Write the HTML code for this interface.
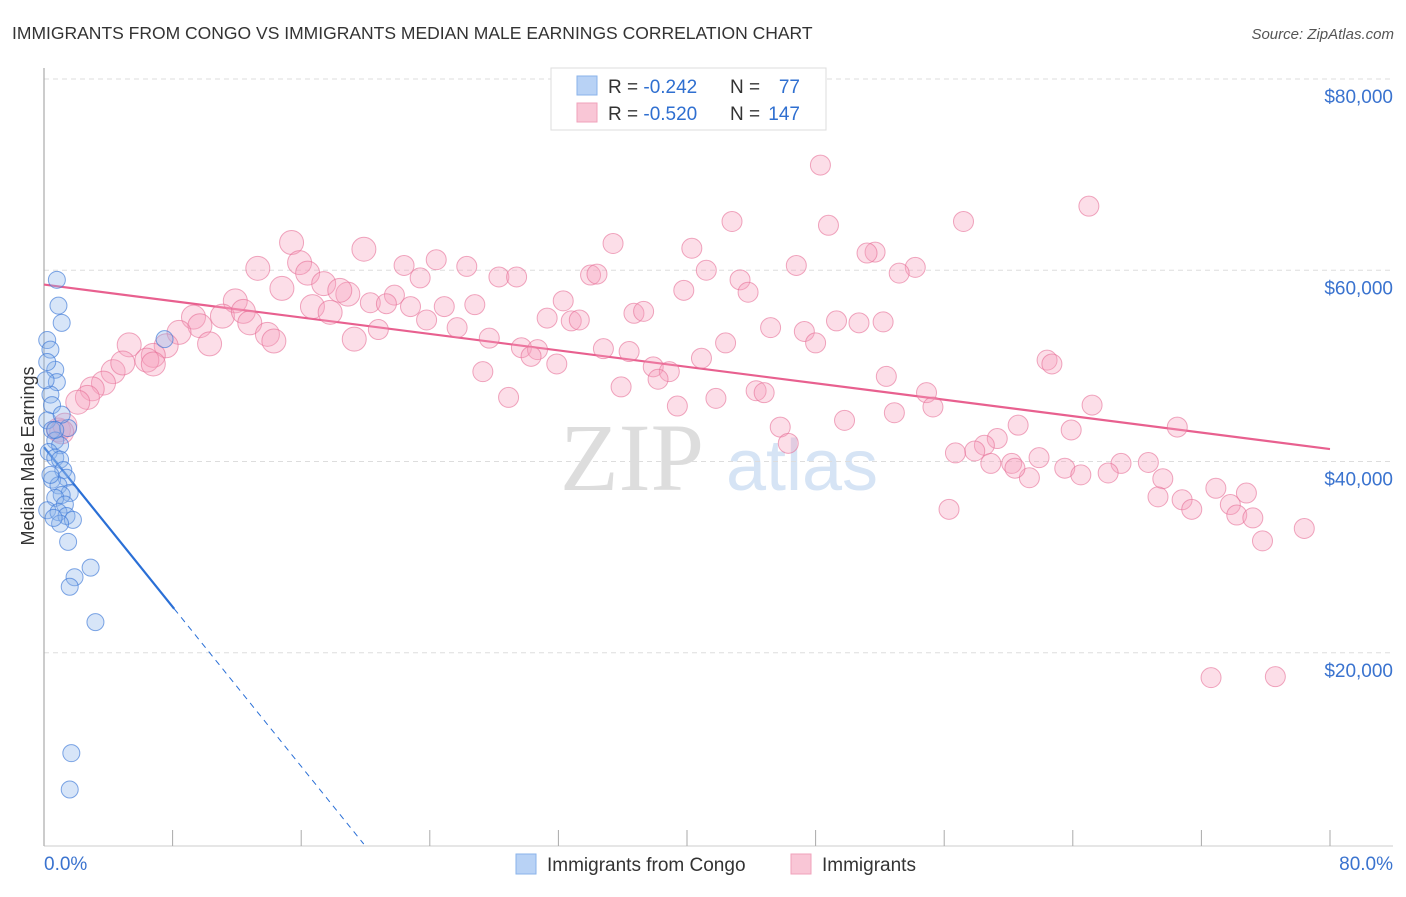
<!DOCTYPE html>
<html><head><meta charset="utf-8">
<style>
body{margin:0;background:#fff;font-family:"Liberation Sans",sans-serif;}
svg text{font-family:"Liberation Sans",sans-serif;}
</style></head>
<body>
<svg id="chart" width="1406" height="892" viewBox="0 0 1406 892" xmlns="http://www.w3.org/2000/svg">
<text x="12" y="39" font-size="17.5" fill="#333">IMMIGRANTS FROM CONGO VS IMMIGRANTS MEDIAN MALE EARNINGS CORRELATION CHART</text>
<text x="1394" y="39" font-size="15" fill="#555" text-anchor="end" font-style="italic">Source: ZipAtlas.com</text>
<g>
<text x="632" y="490" font-size="96" fill="#ddd" text-anchor="middle" font-family="Liberation Serif" style="font-family:'Liberation Serif',serif">ZIP</text>
<text x="802" y="490" font-size="72" fill="#d6e4f5" text-anchor="middle">atlas</text>
</g>
<g id="grid"></g>
<g id="axes"></g>
<g id="trends"></g>
<g id="points"></g>
<text transform="translate(34,456) rotate(-90)" font-size="18" fill="#333" text-anchor="middle">Median Male Earnings</text>
<g>
<rect x="551" y="68" width="275" height="62" fill="#fff" stroke="#ddd"/>
<rect x="577" y="76" width="20" height="19" fill="#b8d2f5" stroke="#8ab3ea"/>
<rect x="577" y="103" width="20" height="19" fill="#f9c6d6" stroke="#f0a2bb"/>
<text x="608" y="93" font-size="19" fill="#333">R = <tspan fill="#2f6fd0">-0.242</tspan></text>
<text x="730" y="93" font-size="19" fill="#333">N = </text><text x="800" y="93" font-size="19" fill="#2f6fd0" text-anchor="end">77</text>
<text x="608" y="120" font-size="19" fill="#333">R = <tspan fill="#2f6fd0">-0.520</tspan></text>
<text x="730" y="120" font-size="19" fill="#333">N = </text><text x="800" y="120" font-size="19" fill="#2f6fd0" text-anchor="end">147</text>
</g>
<g>
<rect x="516" y="854" width="20" height="20" fill="#b8d2f5" stroke="#8ab3ea"/>
<text x="547" y="871" font-size="19" fill="#333">Immigrants from Congo</text>
<rect x="791" y="854" width="20" height="20" fill="#f9c6d6" stroke="#f0a2bb"/>
<text x="822" y="871" font-size="19" fill="#333">Immigrants</text>
</g>
</svg>
<script>
const yTicks=[20000,40000,60000,80000];
const yTickLabels=["$20,000","$40,000","$60,000","$80,000"];
const xTickLabels=["0.0%","80.0%"];
const pinkX=[48.3,42.8,57.2,65.0,48.8,15.4,35.4,19.9,40.3,51.7,51.2,15.9,13.3,24.4,22.4,26.3,41.2,54.2,53.2,16.4,28.3,29.4,34.0,34.4,43.3,23.4,17.4,14.8,18.9,18.4,39.8,43.8,46.8,11.9,16.7,17.8,20.3,21.8,21.3,22.8,24.9,26.8,32.3,23.8,11.1,9.3,12.4,36.7,37.3,31.3,32.8,33.3,49.3,50.7,52.2,12.8,9.7,8.4,25.7,20.8,19.3,13.9,14.3,45.2,47.3,27.7,48.0,42.4,29.7,30.7,34.8,36.4,10.3,7.6,5.3,6.8,6.4,6.8,4.3,4.9,40.9,30.3,31.9,37.9,38.9,38.2,62.4,62.7,27.3,52.4,3.7,3.0,2.7,2.1,0.9,1.3,1.1,35.9,44.3,44.8,28.9,41.8,54.9,39.4,52.9,55.3,49.8,45.8,65.2,70.5,60.6,63.9,46.3,59.3,58.5,57.9,56.7,61.9,60.2,58.9,63.5,67.0,66.2,68.7,69.6,64.5,61.3,60.4,72.9,74.8,69.3,70.8,71.4,73.8,74.2,75.2,56.3,78.4,75.8,72.6,76.6];
const pinkY=[71.0,65.1,65.1,66.7,64.7,62.9,62.8,62.2,62.3,61.9,61.8,60.8,60.2,61.1,60.5,60.4,60.0,60.3,59.7,59.7,59.3,59.3,59.5,59.6,59.0,59.2,58.6,58.1,57.5,57.9,57.9,57.7,60.5,56.8,56.2,55.6,56.6,57.4,56.5,56.2,56.2,56.4,56.8,54.8,55.2,55.1,55.7,55.5,55.7,55.0,54.7,54.8,54.7,54.5,54.6,54.5,54.2,53.5,54.0,53.8,52.8,53.3,52.6,54.0,53.6,52.9,52.4,52.4,51.9,51.7,51.8,51.5,52.3,52.1,52.2,51.1,50.6,50.2,49.4,50.3,50.8,51.0,50.2,49.9,49.4,48.6,50.6,50.2,49.4,48.9,48.2,47.6,46.7,46.2,43.3,43.8,43.1,47.8,47.4,47.2,46.7,46.6,47.2,45.8,45.1,45.7,44.3,43.6,45.9,43.6,43.8,43.3,41.9,42.4,41.7,41.1,40.9,40.4,39.8,39.8,39.3,39.8,38.8,39.9,38.2,38.6,38.3,39.3,37.2,36.7,36.3,36.0,35.0,35.5,34.4,34.1,35.0,33.0,31.7,17.4,17.5];
const blueX=[0.8,0.9,1.1,0.2,0.4,0.7,0.8,0.2,0.4,0.5,0.2,0.5,0.7,1.0,1.5,0.3,0.7,1.0,1.2,1.4,0.5,0.9,1.6,1.1,0.7,1.3,0.2,0.9,1.4,1.8,1.0,0.6,1.5,1.9,2.9,1.6,3.2,1.7,1.6,7.5,0.1,0.4,1.1,0.7];
const blueY=[59.0,56.3,54.5,52.7,51.7,49.6,48.3,50.4,47.0,45.9,44.3,43.3,42.2,41.7,43.5,41.0,40.4,40.2,39.1,38.3,38.1,37.5,36.7,36.5,36.2,35.5,34.9,34.7,34.3,33.9,33.5,34.1,31.6,27.9,28.9,26.9,23.2,9.5,5.7,52.8,48.5,38.6,44.9,43.3];
const pinkTrend=[58.5,41.3]; // values (k$) at 0% and 80%
const blueTrend=[41.5,24.6]; // values at 0% and 8.1%
const blueSolidEnd=8.1;

const NS="http://www.w3.org/2000/svg";
const X0=44,X1=1330,Y0=844,PX_PER_K=191.25/20;
const xs=p=>X0+(p/80)*(X1-X0);
const ys=k=>Y0-k*PX_PER_K;
function mk(tag,attrs,parent){const e=document.createElementNS(NS,tag);for(const k in attrs)e.setAttribute(k,attrs[k]);parent.appendChild(e);return e;}
const grid=document.getElementById('grid'),axes=document.getElementById('axes'),trends=document.getElementById('trends'),pts=document.getElementById('points');
yTicks.forEach((v,i)=>{
 const y=ys(v/1000);
 const l=mk('line',{x1:X0,x2:1393,y1:y,y2:y,stroke:'#ddd','stroke-dasharray':'5,4'},grid);
 
 
 const t=mk('text',{x:1393,y:y+24,'font-size':19,fill:'#3a73cf','text-anchor':'end'},axes);
 t.textContent=yTickLabels[i];
 
 
});
const ax=mk('line',{x1:X0,x2:X0,y1:68,y2:846,stroke:'#aaa','stroke-width':1.2},axes);


const bx=mk('line',{x1:X0,x2:1393,y1:846,y2:846,stroke:'#ccc'},axes);


for(let i=0;i<=10;i++){
 const x=xs(i*8);
 const tk=mk('line',{x1:x,x2:x,y1:830,y2:846,stroke:'#aaa'},axes);
 
 
}
[[0,'start',X0],[80,'end',1393]].forEach((d,i)=>{
 const t=mk('text',{x:d[2],y:870,'font-size':19,fill:'#3a73cf','text-anchor':d[1]},axes);
 t.textContent=xTickLabels[i];
 
 
});
// trends
const pl=mk('line',{x1:xs(0),y1:ys(pinkTrend[0]),x2:xs(80),y2:ys(pinkTrend[1]),stroke:'#e8608f','stroke-width':2.2},trends);


const slope=(blueTrend[1]-blueTrend[0])/blueSolidEnd;
const bl=mk('line',{x1:xs(0),y1:ys(blueTrend[0]),x2:xs(blueSolidEnd),y2:ys(blueTrend[1]),stroke:'#2a6fd6','stroke-width':2.2},trends);


const zeroX=-blueTrend[0]/slope;
const bd=mk('line',{x1:xs(blueSolidEnd),y1:ys(blueTrend[1]),x2:xs(zeroX),y2:ys(0),stroke:'#2a6fd6','stroke-width':1,'stroke-dasharray':'6,5'},trends);


// points
pinkX.forEach((p,i)=>{
 const r=p<20?12:10;
 const c=mk('circle',{cx:xs(p),cy:ys(pinkY[i]),r:r,fill:'rgba(245,160,190,0.35)',stroke:'rgba(230,110,150,0.6)','stroke-width':1},pts);
 
 
});
blueX.forEach((p,i)=>{
 const c=mk('circle',{cx:xs(p),cy:ys(blueY[i]),r:8.5,fill:'rgba(140,180,235,0.35)',stroke:'rgba(60,120,215,0.65)','stroke-width':1},pts);
 
 
});
</script>
</body></html>
